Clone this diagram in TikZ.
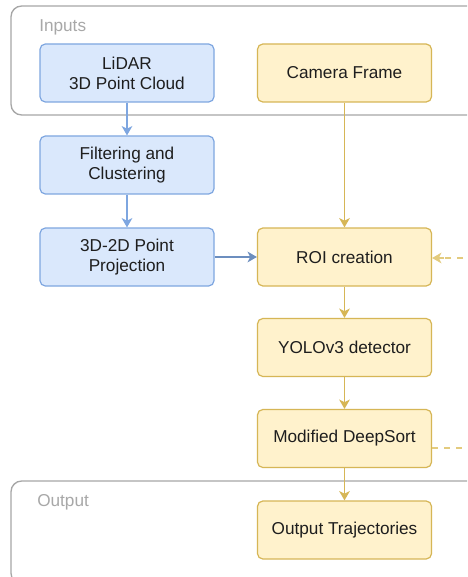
\documentclass[tikz,border=0pt]{standalone}
\usepackage{fontspec}
\setmainfont{Liberation Sans}
\usetikzlibrary{arrows.meta}
\definecolor{bluefill}{HTML}{DAE8FC}
\definecolor{bluedraw}{HTML}{7EA6E0}
\definecolor{bluearrow}{HTML}{6C8EBF}
\definecolor{yelfill}{HTML}{FFF2CC}
\definecolor{yeldraw}{HTML}{D6B656}
\definecolor{yeldash}{HTML}{E3CB7E}
\definecolor{groupdraw}{HTML}{A6A6A6}
\definecolor{grouptext}{HTML}{A8A8A8}
\definecolor{txt}{HTML}{1E1E1E}
\tikzset{
  every node/.style={font=\fontsize{12.9}{15}\selectfont, text=txt},
  group/.style={draw=groupdraw, line width=1pt, rounded corners=8, fill=white},
  grouplabel/.style={anchor=west, text=grouptext, inner sep=0pt},
  box/.style={rounded corners=4, line width=0.9pt, minimum width=130.5pt, minimum height=43.5pt, align=center, inner sep=0pt},
  lidarbox/.style={box, fill=bluefill, draw=bluedraw},
  cambox/.style={box, fill=yelfill, draw=yeldraw},
  tip/.style={-{Triangle[length=7pt, width=8pt, inset=2pt]}},
  bluelink/.style={tip, draw=bluedraw, line width=0.9pt},
  bluelinkdark/.style={tip, draw=bluearrow, line width=0.9pt},
  yellink/.style={tip, draw=yeldraw, line width=0.9pt},
  fback/.style={draw=yeldash, line width=0.9pt, dash pattern=on 4.5pt off 4.5pt},
}
\begin{document}
\begin{tikzpicture}[x=0.75pt, y=-0.75pt]
  \clip (0,0) rectangle (467,577);
  \fill[white] (0,0) rectangle (467,577);

  % input and output groups
  \draw[group] (11,6) rectangle (490,115);
  \node[grouplabel] (inlabel) at (39,27) {Inputs};
  \draw[group] (11,481) rectangle (490,584);
  \node[grouplabel] (outlabel) at (37,502) {Output};

  % LiDAR branch
  \node[lidarbox] (lidar) at (127,73) {LiDAR\\3D Point Cloud};
  \node[lidarbox] (filter) at (127,165) {Filtering and\\Clustering};
  \node[lidarbox] (proj) at (127,257) {3D-2D Point\\Projection};

  % camera branch
  \node[cambox] (cam) at (344.5,73) {Camera Frame};
  \node[cambox] (roi) at (344.5,257) {ROI creation};
  \node[cambox] (yolo) at (344.5,347.5) {YOLOv3 detector};
  \node[cambox] (sort) at (344.5,438.5) {Modified DeepSort};
  \node[cambox] (traj) at (344.5,530) {Output Trajectories};

  % connectors
  \draw[bluelink] (lidar) -- (filter);
  \draw[bluelink] (filter) -- (proj);
  \draw[bluelinkdark] (proj) -- (roi);
  \draw[yellink] (cam) -- (roi);
  \draw[yellink] (roi) -- (yolo);
  \draw[yellink] (yolo) -- (sort);
  \draw[yellink] (sort) -- (traj);

  % feedback loop leaving the picture on the right
  \coordinate (fbin) at (475,258);
  \coordinate (fbout) at (475,448);
  \draw[fback] (fbin) -- ([xshift=6pt]roi.east |- fbin);
  \draw[tip, draw=yeldash, line width=0.9pt] ([xshift=9pt]roi.east |- fbin) -- (roi.east |- fbin);
  \draw[fback] (sort.east |- fbout) -- (fbout);
\end{tikzpicture}
\end{document}
